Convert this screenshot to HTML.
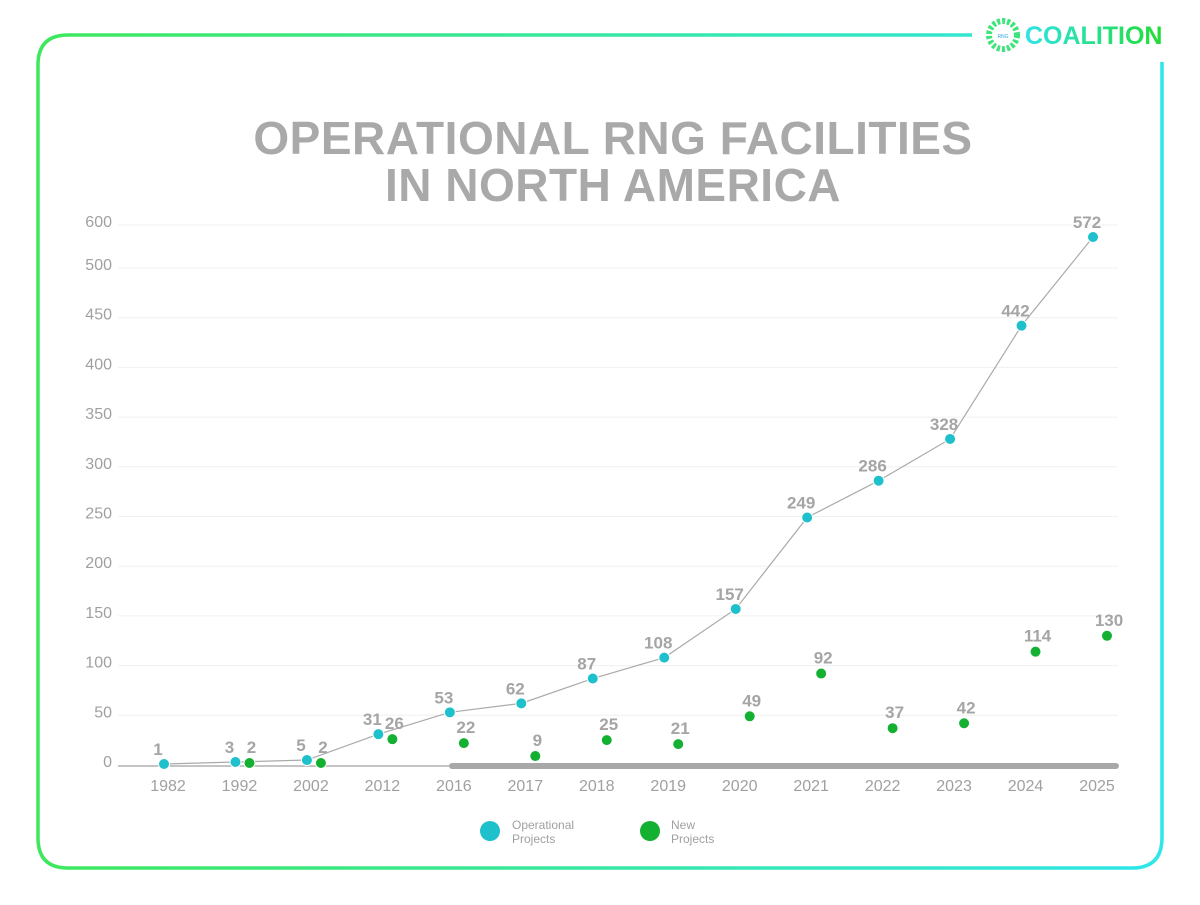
<!DOCTYPE html>
<html><head><meta charset="utf-8">
<style>
html,body{margin:0;padding:0;background:#fff;}
body{width:1200px;height:900px;overflow:hidden;font-family:"Liberation Sans",sans-serif;}
</style></head>
<body>
<svg id="chart" width="1200" height="900" viewBox="0 0 1200 900" xmlns="http://www.w3.org/2000/svg">
<defs>
<linearGradient id="fg" x1="0" x2="1" y1="0" y2="0">
<stop offset="0" stop-color="#3ee85c"/><stop offset="1" stop-color="#2fe6ea"/>
</linearGradient>
<linearGradient id="lg" x1="0" x2="1" y1="0" y2="0">
<stop offset="0" stop-color="#2fe3e8"/><stop offset="1" stop-color="#22dd33"/>
</linearGradient>
</defs>
<path d="M972 35 H68 Q38 35 38 65 V838 Q38 868 68 868 H1132 Q1162 868 1162 838 V62" fill="none" stroke="url(#fg)" stroke-width="3.5"/>
<g>
<circle cx="1003" cy="35" r="14" fill="none" stroke="#3de47a" stroke-width="6" stroke-dasharray="3 2"/>
<circle cx="1003" cy="35" r="8" fill="#fff"/>
<text x="1003" y="38" font-size="5" fill="#3ad" text-anchor="middle">RNG</text>
<text x="1025" y="44" font-size="25" font-weight="bold" fill="url(#lg)">COALITION</text>
</g>
<text x="613" y="154" font-size="46" font-weight="bold" fill="#a9a9a9" text-anchor="middle" letter-spacing="0.5">OPERATIONAL RNG FACILITIES</text>
<text x="613" y="201" font-size="46" font-weight="bold" fill="#a9a9a9" text-anchor="middle" letter-spacing="0.5">IN NORTH AMERICA</text>
<g id="grid"></g><g id="axes"></g><g id="marks"></g>
<g>
<circle cx="490" cy="831" r="10" fill="#1ec0cc"/>
<text x="512" y="829" font-size="12" fill="#a0a0a0">Operational</text>
<text x="512" y="843" font-size="12" fill="#a0a0a0">Projects</text>
<circle cx="650" cy="831" r="10" fill="#14b032"/>
<text x="671" y="829" font-size="12" fill="#a0a0a0">New</text>
<text x="671" y="843" font-size="12" fill="#a0a0a0">Projects</text>
</g>
</svg>
<script>
const categories=["1982","1992","2002","2012","2016","2017","2018","2019","2020","2021","2022","2023","2024","2025"];
const operational=[1,3,5,31,53,62,87,108,157,249,286,328,442,572];
const newProjects=[null,2,2,26,22,9,25,21,49,92,37,42,114,130];
const yTicks=[0,50,100,150,200,250,300,350,400,450,500,600];
const NS="http://www.w3.org/2000/svg";
const yDomain=[0,500,600], yRange=[765,268,225];
function y(v){for(let i=1;i<yDomain.length;i++){if(v<=yDomain[i]||i===yDomain.length-1){const t=(v-yDomain[i-1])/(yDomain[i]-yDomain[i-1]);return yRange[i-1]+t*(yRange[i]-yRange[i-1]);}}}
function x(i){return 168+i*(1097-168)/(categories.length-1);}
function mk(tag,attrs,parent){const e=document.createElementNS(NS,tag);for(const k in attrs)e.setAttribute(k,attrs[k]);parent.appendChild(e);return e;}
const grid=document.getElementById('grid'),axes=document.getElementById('axes'),marks=document.getElementById('marks');
yTicks.forEach(v=>{
 if(v>0){const g=mk('line',{x1:118,x2:1118,y1:y(v),y2:y(v),stroke:'#f0f0f0','stroke-width':1},grid);
 
 }
 const t=mk('text',{x:112,y:y(v)+2,'font-size':16,fill:'#a0a0a0','text-anchor':'end'},axes);
 
 
 t.textContent=v;
});
const base=mk('line',{x1:118,x2:1118,y1:766,y2:766,stroke:'#b0b0b0','stroke-width':1.5},axes);


const bar=mk('line',{x1:452,x2:1116,y1:766,y2:766,stroke:'#a8a8a8','stroke-width':6,'stroke-linecap':'round'},axes);


categories.forEach((c,i)=>{
 const t=mk('text',{x:x(i),y:791,'font-size':16,fill:'#a0a0a0','text-anchor':'middle'},axes);
 
 
 t.textContent=c;
});
const OX=-4, NX=10;
const pts=operational.map((v,i)=>(x(i)+OX)+','+y(v)).join(' ');
const line=mk('polyline',{points:pts,fill:'none',stroke:'#aaaaaa','stroke-width':1.2},marks);


operational.forEach((v,i)=>{
 const c=mk('circle',{cx:x(i)+OX,cy:y(v),r:5.5,fill:'#1ec0cc',stroke:'#fff','stroke-width':1},marks);
 
 
 const t=mk('text',{x:x(i)+OX-6,y:y(v)-9,'font-size':17,'font-weight':'bold',fill:'#a5a5a5','text-anchor':'middle'},marks);
 
 
 t.textContent=v;
});
newProjects.forEach((v,i)=>{
 if(v===null)return;
 const c=mk('circle',{cx:x(i)+NX,cy:y(v),r:5.5,fill:'#14b032',stroke:'#fff','stroke-width':1},marks);
 
 
 const t=mk('text',{x:x(i)+NX+2,y:y(v)-10,'font-size':17,'font-weight':'bold',fill:'#a5a5a5','text-anchor':'middle'},marks);
 
 
 t.textContent=v;
});
</script>
</body></html>
